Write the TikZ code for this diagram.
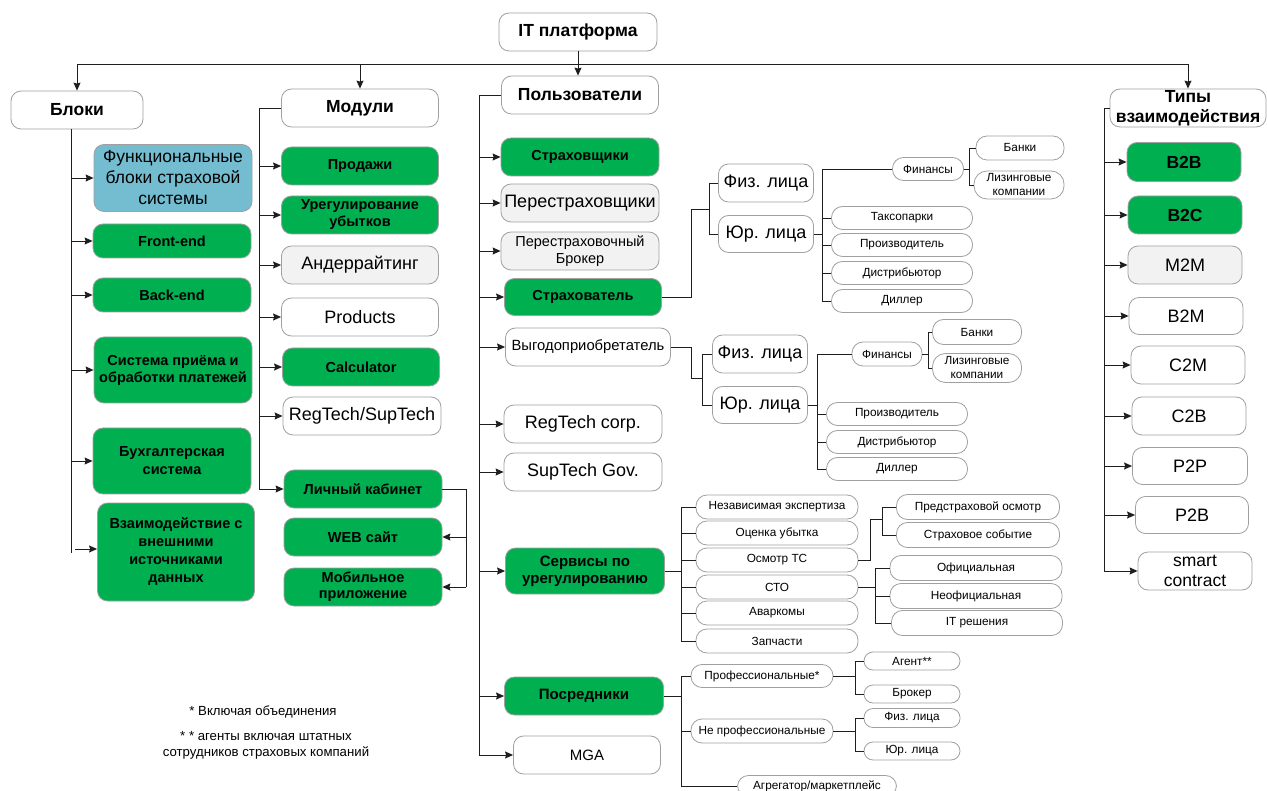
\documentclass[tikz,border=0pt]{standalone}
\usepackage{fontspec}
\setmainfont{Liberation Sans}
\usepackage{xcolor}
\definecolor{ipGreen}{RGB}{0,176,80}
\definecolor{ipBlue}{RGB}{116,189,209}
\definecolor{ipGray}{RGB}{242,242,242}
\definecolor{ipEdge}{RGB}{160,160,160}
\definecolor{ipLine}{RGB}{30,30,30}
\usetikzlibrary{arrows.meta}

\begin{document}
\begin{tikzpicture}[x=1pt, y=-1pt,
  box/.style={draw=ipEdge, line width=0.8pt, rounded corners=10pt, align=center,
              inner sep=1pt, text=black},
  sz/.style 2 args={minimum width=#1pt, minimum height=#2pt},
  hdr/.style={box, fill=white, font=\fontsize{17.5}{20.5}\selectfont\bfseries},
  gbox/.style={box, fill=ipGreen, font=\fontsize{14.5}{17}\selectfont\bfseries},
  wbox/.style={box, fill=white, font=\fontsize{18}{21}\selectfont},
  gybox/.style={box, fill=ipGray, font=\fontsize{18}{21}\selectfont},
  sbox/.style={box, fill=ipGreen, font=\fontsize{15}{16.7}\selectfont\bfseries},
  pill/.style={box, rounded corners=11pt, fill=white, font=\fontsize{11.8}{14}\selectfont},
  note/.style={align=center, font=\fontsize{13.2}{16}\selectfont},
  link/.style={draw=ipLine, line width=0.9pt},
  arr/.style={link, -{Stealth[length=8pt, width=7pt, inset=1pt]}}
]
  \useasboundingbox (0,0) rectangle (1267,791);

  % top level
  \node[hdr, sz={158}{38}] (itplat) at (578,32)   {IT платформа};
  \node[hdr, sz={132}{38}] (bloki)  at (77,110)   {Блоки};
  \node[hdr, sz={157}{38}] (moduli) at (360,108)  {Модули};
  \node[hdr, sz={157}{38}] (polz)   at (580,95)   {Пользователи};
  \node[hdr, sz={156}{38}, inner sep=0pt, font=\fontsize{17.5}{19.5}\selectfont\bfseries]
    (tipy) at (1188,108) {Типы\\взаимодействия};

  % blocks
  \node[box, sz={158}{67}, fill=ipBlue, font=\fontsize{17.5}{21}\selectfont]
    (funcBl) at (173,178) {Функциональные\\блоки страховой\\системы};
  \node[gbox, sz={158}{34}] (frontEnd) at (172,241) {Front-end};
  \node[gbox, sz={158}{34}] (backEnd)  at (172,295) {Back-end};
  \node[gbox, sz={158}{66}] (payBl)    at (173,370) {Система приёма и\\обработки платежей};
  \node[gbox, sz={158}{66}, font=\fontsize{14.5}{18}\selectfont\bfseries]
    (accBl) at (172,461) {Бухгалтерская\\система};
  \node[gbox, sz={157}{98}, font=\fontsize{14.5}{18}\selectfont\bfseries]
    (extBl) at (176,552) {Взаимодействие с\\внешними\\источниками\\данных};

  % modules
  \node[gbox,  sz={157}{38}] (prodM)     at (360,166) {Продажи};
  \node[gbox,  sz={157}{38}] (uregM)     at (360,215) {Урегулирование\\убытков};
  \node[gybox, sz={157}{38}] (underM)    at (360,265) {Андеррайтинг};
  \node[wbox,  sz={157}{38}] (productsM) at (360,317) {Products};
  \node[gbox,  sz={157}{38}] (calcM)     at (361,367) {Calculator};
  \node[wbox,  sz={158}{38}] (regsupM)   at (362,416) {RegTech/SupTech};
  \node[gbox,  sz={158}{38}] (lkM)       at (363,489) {Личный кабинет};
  \node[gbox,  sz={158}{38}] (webM)      at (363,537) {WEB сайт};
  \node[gbox,  sz={158}{38}, font=\fontsize{14.5}{15.7}\selectfont\bfseries]
    (mobM) at (363,587) {Мобильное\\приложение};

  % users
  \node[gbox,  sz={158}{38}] (strvU)  at (580,157) {Страховщики};
  \node[gybox, sz={158}{38}] (pereU)  at (580,203) {Перестраховщики};
  \node[gybox, sz={158}{38}, font=\fontsize{14.5}{17}\selectfont]
    (pbrokU) at (580,251) {Перестраховочный\\Брокер};
  \node[gbox,  sz={157}{37}] (strhU)  at (583,297) {Страхователь};
  \node[wbox,  sz={165}{38}, font=\fontsize{14.8}{17}\selectfont]
    (vygU) at (588,347) {Выгодоприобретатель};
  \node[wbox,  sz={158}{38}] (rcorpU) at (583,424) {RegTech corp.};
  \node[wbox,  sz={158}{38}] (sgovU)  at (583,472) {SupTech Gov.};
  \node[sbox,  sz={159}{46}] (servU)  at (585,571) {Сервисы по\\урегулированию};
  \node[sbox,  sz={159}{38}] (posrU)  at (584,696) {Посредники};
  \node[wbox,  sz={147}{38}, font=\fontsize{15}{18}\selectfont] (mgaU) at (587,755) {MGA};

  % insured branch
  \node[wbox, sz={95}{38}] (fiz1) at (766,183) {Физ. лица};
  \node[wbox, sz={95}{37}] (yur1) at (766,234) {Юр. лица};
  \node[pill, sz={71}{23}]  (fin1)   at (928,169)  {Финансы};
  \node[pill, sz={141}{23}] (taxi1)  at (902,218)  {Таксопарки};
  \node[pill, sz={141}{23}] (proiz1) at (902,245)  {Производитель};
  \node[pill, sz={141}{23}] (dist1)  at (902,273)  {Дистрибьютор};
  \node[pill, sz={141}{23}] (dil1)   at (902,301)  {Диллер};
  \node[pill, sz={88}{24}]  (bank1)  at (1020,148) {Банки};
  \node[pill, sz={90}{28}, rounded corners=13pt] (leas1) at (1019,185) {Лизинговые\\компании};

  % beneficiary branch
  \node[wbox, sz={95}{38}] (fiz2) at (760,354) {Физ. лица};
  \node[wbox, sz={95}{37}] (yur2) at (760,405) {Юр. лица};
  \node[pill, sz={70}{24}]  (fin2)   at (887,354) {Финансы};
  \node[pill, sz={89}{25}]  (bank2)  at (977,332) {Банки};
  \node[pill, sz={89}{29}, rounded corners=13pt] (leas2) at (977,368) {Лизинговые\\компании};
  \node[pill, sz={141}{23}] (proiz2) at (897,414) {Производитель};
  \node[pill, sz={141}{23}] (dist2)  at (897,442) {Дистрибьютор};
  \node[pill, sz={141}{23}] (dil2)   at (897,469) {Диллер};

  % settlement services
  \node[pill, sz={162}{24}] (nezS)  at (777,507) {Независимая экспертиза};
  \node[pill, sz={162}{24}] (ocenS) at (777,533) {Оценка убытка};
  \node[pill, sz={162}{24}] (osmS)  at (777,560) {Осмотр ТС};
  \node[pill, sz={162}{24}] (stoS)  at (777,587) {СТО};
  \node[pill, sz={162}{24}] (avarS) at (777,613) {Аваркомы};
  \node[pill, sz={162}{24}] (zapS)  at (777,641) {Запчасти};
  \node[pill, sz={163}{25}] (predS) at (978,507) {Предстраховой осмотр};
  \node[pill, sz={163}{25}] (sobS)  at (978,535) {Страховое событие};
  \node[pill, sz={172}{25}] (oficS) at (976,568) {Официальная};
  \node[pill, sz={172}{25}] (neofS) at (976,596) {Неофициальная};
  \node[pill, sz={171}{25}] (itrS)  at (977,623) {IT решения};

  % intermediaries
  \node[pill, sz={142}{23}] (profP)   at (762,676) {Профессиональные*};
  \node[pill, sz={142}{24}] (neprofP) at (762,731) {Не профессиональные};
  \node[pill, sz={159}{21}] (agrP)    at (817,786) {Агрегатор/маркетплейс};
  \node[pill, sz={96}{18}, rounded corners=9pt] (agentP) at (912,661) {Агент**};
  \node[pill, sz={96}{18}, rounded corners=9pt] (brokP)  at (912,694) {Брокер};
  \node[pill, sz={96}{19}, rounded corners=9pt] (fiz3)   at (912,718) {Физ. лица};
  \node[pill, sz={96}{18}, rounded corners=9pt] (yur3)   at (912,751) {Юр. лица};

  % interaction types
  \node[gbox,  sz={114}{39}, font=\fontsize{17.5}{20}\selectfont\bfseries] (b2b) at (1184,162) {B2B};
  \node[gbox,  sz={114}{38}, font=\fontsize{17.5}{20}\selectfont\bfseries] (b2c) at (1185,215) {B2C};
  \node[gybox, sz={114}{38}] (m2m)   at (1185,265) {M2M};
  \node[wbox,  sz={114}{37}] (b2m)   at (1186,316) {B2M};
  \node[wbox,  sz={114}{38}] (c2m)   at (1188,365) {C2M};
  \node[wbox,  sz={114}{38}] (c2b)   at (1189,416) {C2B};
  \node[wbox,  sz={115}{37}] (p2p)   at (1190,466) {P2P};
  \node[wbox,  sz={113}{37}] (p2b)   at (1192,515) {P2B};
  \node[wbox,  sz={114}{38}, inner sep=0pt, font=\fontsize{17.5}{20.5}\selectfont]
    (smart) at (1195,571) {smart\\contract};

  % footnotes
  \node[note] (fn1) at (263,712) {* Включая объединения};
  \node[note] (fn2) at (266,745) {* * агенты включая штатных\\сотрудников страховых компаний};

  % bus from the platform
  \coordinate (busL) at (77,64);
  \coordinate (busR) at (1188,64);
  \draw[link] (busL) -- (busR);
  \draw[arr] (busL) -- (bloki.north);
  \draw[arr] (busL -| moduli.north) -- (moduli.north);
  \draw[arr] (busR) -- (tipy.north);
  \draw[arr] (itplat.south) -- (itplat.south |- polz.north);

  % blocks trunk
  \coordinate (bTr) at ([xshift=-6pt]bloki.south);
  \draw[link] (bTr) -- (bTr |- 0,553);
  \draw[arr] (bTr |- funcBl.west) -- (funcBl.west);
  \draw[arr] (bTr |- frontEnd.west) -- (frontEnd.west);
  \draw[arr] (bTr |- backEnd.west) -- (backEnd.west);
  \draw[arr] (bTr |- payBl.west) -- (payBl.west);
  \draw[arr] (bTr |- accBl.west) -- (accBl.west);
  \draw[arr] ([xshift=4pt]bTr |- 0,549) -- (extBl.west |- 0,549);

  % modules trunk
  \coordinate (mTr) at (259,108);
  \draw[link] (moduli.west) -- (mTr) -- (mTr |- lkM.west);
  \draw[arr] (mTr |- prodM.west) -- (prodM.west);
  \draw[arr] (mTr |- uregM.west) -- (uregM.west);
  \draw[arr] (mTr |- underM.west) -- (underM.west);
  \draw[arr] (mTr |- productsM.west) -- (productsM.west);
  \draw[arr] (mTr |- calcM.west) -- (calcM.west);
  \draw[arr] (mTr |- regsupM.west) -- (regsupM.west);
  \draw[arr] (mTr |- lkM.west) -- (lkM.west);
  \draw[link] (lkM.east) -- ++(24,0) coordinate (lkR) -- (lkR |- mobM.east);
  \draw[arr] (lkR |- webM.east) -- (webM.east);
  \draw[arr] (lkR |- mobM.east) -- (mobM.east);

  % users trunk
  \coordinate (uTr) at (479,95);
  \draw[link] (polz.west) -- (uTr) -- (uTr |- mgaU.west);
  \draw[arr] (uTr |- strvU.west) -- (strvU.west);
  \draw[arr] (uTr |- pereU.west) -- (pereU.west);
  \draw[arr] (uTr |- pbrokU.west) -- (pbrokU.west);
  \draw[arr] (uTr |- strhU.west) -- (strhU.west);
  \draw[arr] (uTr |- vygU.west) -- (vygU.west);
  \draw[arr] (uTr |- rcorpU.west) -- (rcorpU.west);
  \draw[arr] (uTr |- sgovU.west) -- (sgovU.west);
  \draw[arr] (uTr |- servU.west) -- (servU.west);
  \draw[arr] (uTr |- posrU.west) -- (posrU.west);
  \draw[arr] (uTr |- mgaU.west) -- (mgaU.west);

  % insured branch links
  \coordinate (jStrh) at (710,209);
  \draw[link] (strhU.east) -- ++(30,0) |- (jStrh);
  \draw[link] (fiz1.west) -- ++(-9,0) |- (yur1.west);
  \draw[link] (yur1.east) -- ++(9,0) coordinate (yT1);
  \draw[link] (fin1.west) -| (yT1) |- (dil1.west);
  \draw[link] (yT1 |- taxi1.west) -- (taxi1.west);
  \draw[link] (yT1 |- proiz1.west) -- (proiz1.west);
  \draw[link] (yT1 |- dist1.west) -- (dist1.west);
  \draw[link] (fin1.east) -- ++(6,0) coordinate (fT1);
  \draw[link] (bank1.west) -| (fT1) |- (leas1.west);

  % beneficiary branch links
  \coordinate (jVyg) at (703,378);
  \draw[link] (vygU.east) -- ++(21,0) |- (jVyg);
  \draw[link] (fiz2.west) -- ++(-10,0) |- (yur2.west);
  \draw[link] (yur2.east) -- ++(10,0) coordinate (yT2);
  \draw[link] (fin2.west) -| (yT2) |- (dil2.west);
  \draw[link] (yT2 |- proiz2.west) -- (proiz2.west);
  \draw[link] (yT2 |- dist2.west) -- (dist2.west);
  \draw[link] (fin2.east) -- ++(6,0) coordinate (fT2);
  \draw[link] (bank2.west) -| (fT2) |- (leas2.west);

  % services links
  \draw[link] (servU.east) -- ++(17,0) coordinate (sT);
  \draw[link] (nezS.west) -| (sT) |- (zapS.west);
  \draw[link] (sT |- ocenS.west) -- (ocenS.west);
  \draw[link] (sT |- osmS.west) -- (osmS.west);
  \draw[link] (sT |- stoS.west) -- (stoS.west);
  \draw[link] (sT |- avarS.west) -- (avarS.west);
  \coordinate (jOsm) at (883,519);
  \draw[link] (osmS.east) -- ++(12,0) |- (jOsm);
  \draw[link] (predS.west) -- ++(-14,0) |- (sobS.west);
  \draw[link] (stoS.east) -- ++(17,0) coordinate (stoT);
  \draw[link] (oficS.west) -| (stoT) |- (itrS.west);
  \draw[link] (stoT |- neofS.west) -- (neofS.west);

  % intermediaries links
  \draw[link] (posrU.east) -- ++(18,0) coordinate (pT);
  \draw[link] (profP.west) -| (pT) |- (agrP.west);
  \draw[link] (pT |- neprofP.west) -- (neprofP.west);
  \draw[link] (profP.east) -- ++(22,0) coordinate (prT);
  \draw[link] (agentP.west) -| (prT) |- (brokP.west);
  \draw[link] (neprofP.east) -- ++(22,0) coordinate (npT);
  \draw[link] (fiz3.west) -| (npT) |- (yur3.west);

  % types trunk
  \coordinate (tTr) at (1104,108);
  \draw[link] (tipy.west) -- (tTr) -- (tTr |- smart.west);
  \draw[arr] (tTr |- b2b.west) -- (b2b.west);
  \draw[arr] (tTr |- b2c.west) -- (b2c.west);
  \draw[arr] (tTr |- m2m.west) -- (m2m.west);
  \draw[arr] (tTr |- b2m.west) -- (b2m.west);
  \draw[arr] (tTr |- c2m.west) -- (c2m.west);
  \draw[arr] (tTr |- c2b.west) -- (c2b.west);
  \draw[arr] (tTr |- p2p.west) -- (p2p.west);
  \draw[arr] (tTr |- p2b.west) -- (p2b.west);
  \draw[arr] (tTr |- smart.west) -- (smart.west);
\end{tikzpicture}
\end{document}
